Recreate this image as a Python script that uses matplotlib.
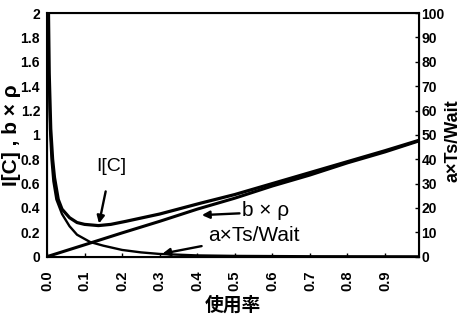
import numpy as np
import matplotlib
matplotlib.use('Agg')
import matplotlib.pyplot as plt

plt.rcParams['font.family'] = ['Liberation Sans', 'Noto Sans CJK JP', 'DejaVu Sans']

# ── data ────────────────────────────────────────────────────────────────────
rho_line = [0.0, 0.1, 0.2, 0.3, 0.4, 0.5, 0.6, 0.7, 0.8, 0.9, 0.99]
b_rho    = [0.0, 0.097, 0.195, 0.29, 0.39, 0.48, 0.58, 0.67, 0.77, 0.86, 0.95]

rho_wait = [0.003, 0.005, 0.008, 0.012, 0.017, 0.025, 0.04, 0.06, 0.08,
            0.115, 0.15, 0.2, 0.25, 0.3, 0.4, 0.5, 0.7, 0.99]
a_wait   = [2.0, 1.5, 1.05, 0.8, 0.62, 0.47, 0.35, 0.25, 0.18,
            0.12, 0.09, 0.055, 0.035, 0.022, 0.01, 0.006, 0.003, 0.002]

rho_ic   = [0.004, 0.006, 0.01, 0.015, 0.02, 0.03, 0.04, 0.06, 0.08, 0.1,
            0.137, 0.17, 0.21, 0.3, 0.41, 0.5, 0.6, 0.7, 0.8, 0.9, 0.99]
ic       = [2.0, 1.5, 1.05, 0.8, 0.65, 0.47, 0.39, 0.32, 0.28, 0.265,
            0.255, 0.265, 0.29, 0.35, 0.44, 0.51, 0.6, 0.69, 0.78, 0.87, 0.955]

x_ticks  = [0.0, 0.1, 0.2, 0.3, 0.4, 0.5, 0.6, 0.7, 0.8, 0.9]
y_ticks  = [0, 0.2, 0.4, 0.6, 0.8, 1, 1.2, 1.4, 1.6, 1.8, 2]
y2_ticks = [0, 10, 20, 30, 40, 50, 60, 70, 80, 90, 100]

# ── plot ────────────────────────────────────────────────────────────────────
fig = plt.figure(figsize=(4.63, 3.2), dpi=100)
ax = fig.add_axes([0.1015, 0.198, 0.803, 0.761])

ax.plot(rho_line, b_rho, color='black', lw=2.2)
ax.plot(rho_wait, a_wait, color='black', lw=1.7)
ax.plot(rho_ic, ic, color='black', lw=2.3)

ax.set_xlim(0, 0.99)
ax.set_ylim(0, 2)
ax.set_xticks(x_ticks)
ax.set_xticklabels([f'{v:.1f}' for v in x_ticks], rotation=90,
                   fontsize=10.5, fontweight='bold')
ax.set_yticks(y_ticks)
ax.set_yticklabels([f'{v:g}' for v in y_ticks], fontsize=10, fontweight='bold')
ax.tick_params(axis='x', direction='in', length=3, width=1, pad=10)
ax.tick_params(axis='y', length=0, pad=5)
for s in ax.spines.values():
    s.set_linewidth(1.5)

ax2 = ax.twinx()
ax2.set_ylim(0, 100)
ax2.set_yticks(y2_ticks)
ax2.set_yticklabels([str(v) for v in y2_ticks], fontsize=10, fontweight='bold')
ax2.tick_params(axis='y', direction='in', length=3, width=1, pad=2)

ax.set_ylabel('I[C] , b × ρ', fontsize=15, fontweight='bold', labelpad=0)
# right axis label placed by hand so it stays inside the canvas
fig.text(0.979, 0.56, 'a×Ts/Wait', rotation=90, ha='center', va='center',
         fontsize=13, fontweight='bold')
ax.set_xlabel('使用率', fontsize=13.5, fontweight='bold', labelpad=3,
              family=['Noto Sans CJK JP', 'DejaVu Sans'])

arrow = dict(arrowstyle='-|>', color='black', lw=1.7, mutation_scale=11)
ax.annotate('I[C]', xy=(0.137, 0.25), xytext=(0.17, 0.74),
            ha='center', va='center', fontsize=14,
            arrowprops=dict(arrow, shrinkA=10))
ax.annotate('b × ρ', xy=(0.405, 0.34), xytext=(0.52, 0.38),
            ha='left', va='center', fontsize=15,
            arrowprops=dict(arrow, shrinkA=0, relpos=(0, 0.35)))
ax.annotate('a×Ts/Wait', xy=(0.30, 0.02), xytext=(0.43, 0.17),
            ha='left', va='center', fontsize=15,
            arrowprops=dict(arrow, shrinkA=3))

fig.savefig('out.png', dpi=100)
